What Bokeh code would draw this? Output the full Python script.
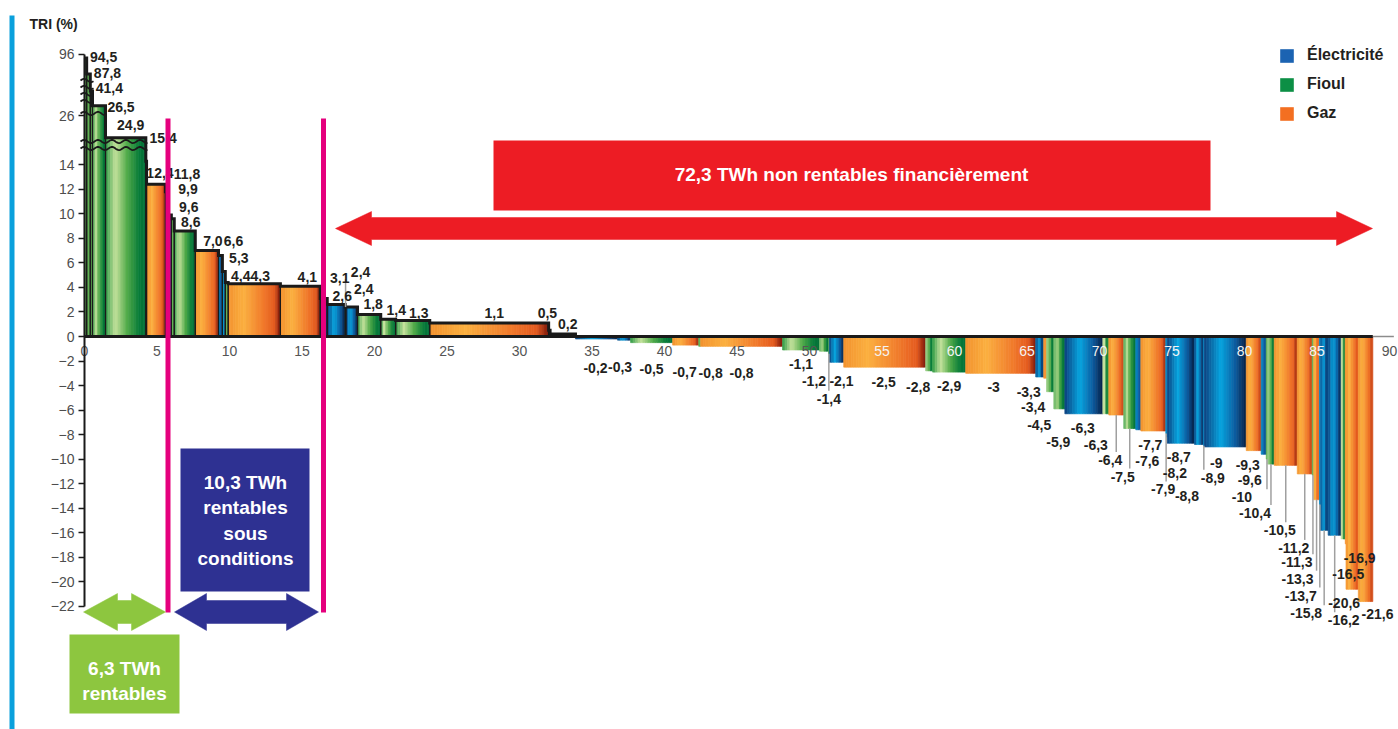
import numpy as np
from bokeh.plotting import figure
from bokeh.models import (ColumnDataSource, LinearAxis, FixedTicker, Legend,
                          LegendItem, Range1d)
from bokeh.core.properties import value
from bokeh.embed import file_html
from bokeh.resources import INLINE

# ----------------------------------------------------------------- data
TRI_LABELS = ["94,5", "87,8", "41,4", "26,5", "24,9", "15,4", "12,4", "11,8", "9,9", "9,6",
              "8,6", "7,0", "6,6", "5,3", "4,4", "4,3", "4,1", "3,1", "2,6", "2,4", "2,4",
              "1,8", "1,4", "1,3", "1,1", "0,5", "0,2",
              "-0,2", "-0,3", "-0,5", "-0,7", "-0,8", "-0,8", "-1,1", "-1,2", "-1,4", "-2,1",
              "-2,5", "-2,8", "-2,9", "-3", "-3,3", "-3,4", "-4,5", "-5,9", "-6,3", "-6,3",
              "-6,4", "-7,5", "-7,6", "-7,7", "-7,9", "-8,2", "-8,7", "-8,8", "-8,9", "-9",
              "-9,3", "-9,6", "-10", "-10,4", "-10,5", "-11,2", "-11,3", "-13,3", "-13,7",
              "-15,8", "-16,2", "-16,5", "-16,9", "-20,6", "-21,6"]
TRI_VALUES = [float(s.replace(",", ".")) for s in TRI_LABELS]
ENERGY_TWH = [0.15, 0.25, 0.15, 0.9, 2.78, 0.05, 1.3, 0.08, 0.33, 0.2, 1.45, 1.6,
              0.27, 0.2, 0.2, 3.6, 2.75, 0.48, 1.24, 0.05, 0.8, 1.6, 1.03, 2.35, 8.2, 0.1, 1.75,
              2.9, 0.9, 2.9, 1.8, 0.13, 5.65, 2.55, 0.62, 0.05, 1.0, 5.65, 0.48,
              2.28, 4.83, 0.55, 0.2, 0.5, 0.76, 2.62, 0.41, 1.03, 0.83, 0.35, 1.72,
              0.05, 0.05, 1.88, 0.62, 0.05, 2.9, 1.03, 0.35, 0.1, 0.45, 1.59,
              1.03, 0.1, 0.4, 0.05, 0.55, 0.9, 0.28, 0.05, 0.85, 1.0]
ENERGY_TYPE = ("F F F F F F G E E F F G E E F G G E E E E F F F G F E "
               "E E F G F G F F F E G F F G E G F F E F G F E G E E E E E E "
               "G E F F G G F G E E E F G G G").split()
LEGEND_NAMES = {"E": "Électricité", "F": "Fioul", "G": "Gaz"}
Y_TICKS = [-22, -20, -18, -16, -14, -12, -10, -8, -6, -4, -2, 0, 2, 4, 6, 8, 10, 12, 14, 26, 96]
X_TICKS = list(range(0, 95, 5))
TITLE_Y = "TRI (%)"
BANNER_RED = "72,3 TWh non rentables financièrement"
BANNER_BLUE = ["10,3 TWh", "rentables", "sous", "conditions"]
BANNER_GREEN = ["6,3 TWh", "rentables"]

# broken value axis: values above 14 are compressed
BREAK_VALUES = [14, 24.9, 26, 26.5, 41.4, 87.8, 96]
BREAK_DISPLAY = [14, 16.2, 18, 18.8, 20.0, 21.4, 23]

# ----------------------------------------------------------------- layout / style
W, H = 1398, 729
PXX, PXY = 14.5, 12.27          # pixels per TWh, pixels per display unit
X0_PAGE, Y0_PAGE = 84, 336       # page position of the origin
x_start = -X0_PAGE / PXX
x_end = x_start + W / PXX
y_end = Y0_PAGE / PXY
y_start = y_end - H / PXY


def X(px):
    return (px - X0_PAGE) / PXX


def Y(py):
    return (Y0_PAGE - py) / PXY


def disp(v):
    return float(v) if v <= 14 else float(np.interp(v, BREAK_VALUES, BREAK_DISPLAY))


# label offsets (px) relative to (bar centre, bar end)
LABEL_OFFSETS = [(18, -1), (19, -1), (18, -3), (22, 1), (5, -13), (17, -23), (4, -11),
                 (21, -18), (19, -26), (16, -12), (6, -9), (6, -10), (13, -15), (15, -13),
                 (14, -7), (6, -8), (7, -9), (16, -20), (6, -9), (15, -35), (12, -18),
                 (4, -10), (8, -9), (6, -8), (5, -10), (-2, -17), (5, -10),
                 (-1, 29), (-4, 27), (0, 26), (-1, 27), (11, 27), (0, 27), (0, 14),
                 (-10, 30), (0, 45), (5, 19), (-1, 15), (-11, 16), (0, 14), (-7, 14),
                 (-11, 15), (-12, 29), (-11, 33), (-1, 33), (-1, 14), (-10, 31), (-6, 45),
                 (-7, 48), (9, 31), (-3, 14), (-3, 56), (8, 36), (-2, 14), (-12, 52),
                 (9, 32), (-9, 16), (-6, 14), (-14, 26), (-25, 38), (-16, 49), (-6, 65),
                 (-11, 74), (-16, 87), (-19, 79), (-19, 91), (-18, 83), (9, 85), (5, 35),
                 (14, 14), (-8, 14), (12, 12)]
LEADER_IDX = [19, 35, 47, 48, 51, 55, 59, 60, 61, 62, 63, 64, 65, 66, 67]

GRADIENTS = {
    "F": [(0, "#2e9a45"), (0.25, "#c5e29c"), (0.55, "#4ea947"), (0.85, "#067a39"), (1, "#05703a")],
    "G": [(0, "#f3922f"), (0.3, "#fbb040"), (0.7, "#f0772a"), (0.9, "#e45a1f"), (1, "#7a1508")],
    "E": [(0, "#0e3f7e"), (0.4, "#06a6e0"), (0.75, "#0c5a9e"), (1, "#061f45")],
}
LEGEND_COLORS = {"E": "#1b63b2", "F": "#0c8f45", "G": "#f36f21"}
FONT = "Liberation Sans"
TXT = "#231f20"


def hex2rgb(h):
    h = h.lstrip("#")
    return np.array([int(h[i:i + 2], 16) for i in (0, 2, 4)], dtype=float)


def grad(stops, t):
    for (t0, c0), (t1, c1) in zip(stops[:-1], stops[1:]):
        if t0 <= t <= t1:
            f = (t - t0) / (t1 - t0)
            c = hex2rgb(c0) * (1 - f) + hex2rgb(c1) * f
            return "#%02x%02x%02x" % tuple(int(round(x)) for x in c)
    return stops[-1][1]


# ----------------------------------------------------------------- geometry from data
vals = np.array(TRI_VALUES, dtype=float)
widths = np.array(ENERGY_TWH, dtype=float)
right = np.cumsum(widths)
left = right - widths
centre = (left + right) / 2
end_d = np.array([disp(v) if v > 0 else v for v in vals])
total = right[-1]

p = figure(width=W, height=H, x_range=Range1d(x_start, x_end), y_range=Range1d(y_start, y_end),
           toolbar_location=None, output_backend="svg", min_border=0,
           x_axis_location=None, y_axis_location=None, outline_line_color=None)
p.xgrid.visible = False
p.ygrid.visible = False
p.background_fill_color = "white"

# gradient-filled bars made of thin strips
sl, sr, st, sb, sc = [], [], [], [], []
for v, l, w, t, e in zip(vals, left, widths, ENERGY_TYPE, end_d):
    n = max(1, int(round(w * PXX / 2.5)))
    top, bot = (e, 0.0) if v > 0 else (0.0, v)
    for k in range(n):
        sl.append(l + w * k / n)
        sr.append(l + w * (k + 1) / n)
        st.append(top)
        sb.append(bot)
        sc.append(grad(GRADIENTS[t], (k + 0.5) / n))
p.quad(left="l", right="r", top="t", bottom="b", fill_color="c", line_color="c", line_width=0.7,
       source=ColumnDataSource(dict(l=sl, r=sr, t=st, b=sb, c=sc)))

pos = vals > 0
p.quad(left=left[pos], right=right[pos], top=end_d[pos], bottom=0,
       fill_color=None, line_color="#1a1a1a", line_width=1.2)

# top step outline of profitable measures
step_x, step_y = [], []
for l, r, e in zip(left[pos], right[pos], end_d[pos]):
    step_x += [l, r]
    step_y += [e, e]
step_x.append(right[pos][-1])
step_y.append(0)
p.line(step_x, step_y, line_color="#1a1a1a", line_width=3, line_join="miter")


# axis-break squiggles
def wave(x0, x1, yd):
    xs = np.linspace(x0, x1, 60)
    ys = yd + 0.13 * np.sin((xs - x0) / (x1 - x0) * 2 * np.pi * (x1 - x0) * PXX / 14)
    return list(xs), list(ys)


wx, wy = [], []
for (xa, xb, yd) in [(X(80), X(147), Y(141)), (X(80), X(147), Y(148)),
                     (X(80), X(106), Y(113)), (X(80), X(93), Y(80)), (X(80), X(93), Y(87)),
                     (X(80), X(93), Y(94)), (X(80), X(93), Y(101))]:
    a, b = wave(xa, xb, yd)
    wx.append(a)
    wy.append(b)
p.multi_line(wx, wy, line_color="#1a1a1a", line_width=1.8)

# zero line
p.line([0, total], [0, 0], line_color="#1a1a1a", line_width=3)
p.line([total, 90.3], [0, 0], line_color="#8c8c8c", line_width=1.5)

# leader lines and value labels
dx = np.array([o[0] for o in LABEL_OFFSETS], dtype=float)
dy = np.array([o[1] for o in LABEL_OFFSETS], dtype=float)
lx0, ly0, ly1 = [], [], []
for i in LEADER_IDX:
    lx0.append(centre[i])
    ly0.append(end_d[i])
    if vals[i] > 0:
        ly1.append(end_d[i] - (dy[i] + 7) / PXY)
    else:
        ly1.append(end_d[i] - (dy[i] - 8) / PXY)
p.segment(x0=lx0, y0=ly0, x1=lx0, y1=ly1, line_color="#a0a0a0", line_width=1.5)

p.text(x=centre, y=end_d, text=TRI_LABELS, x_offset=dx, y_offset=dy,
       text_font=value(FONT), text_font_style="bold", text_font_size="14px",
       text_color=TXT, text_align="center", text_baseline="middle")

# segment boundaries (magenta)
for xb in (X(167.5), X(323)):
    p.segment(x0=xb, y0=Y(118), x1=xb, y1=Y(612), line_color="#e5007d", line_width=5)


def double_arrow(x0, x1, yc, head_px, head_half_px, shaft_half_px, color):
    hl = head_px / PXX
    hh = head_half_px / PXY
    sh = shaft_half_px / PXY
    xs = [x0, x0 + hl, x0 + hl, x1 - hl, x1 - hl, x1, x1 - hl, x1 - hl, x0 + hl, x0 + hl]
    ys = [yc, yc + hh, yc + sh, yc + sh, yc + hh, yc, yc - hh, yc - sh, yc - sh, yc - hh]
    p.patch(xs, ys, fill_color=color, line_color=color, line_width=0.5)


# red: non profitable
p.quad(left=X(493), right=X(1210), top=Y(140), bottom=Y(210), fill_color="#ed1c24", line_color=None)
p.text(x=[X(851)], y=[Y(174)], text=[BANNER_RED], text_font=value(FONT), text_font_style="bold",
       text_font_size="19px", text_color="white", text_align="center", text_baseline="middle")
double_arrow(X(335), X(1372), Y(228), 36, 17, 11, "#ed1c24")

# navy: profitable under conditions
p.quad(left=X(180), right=X(309), top=Y(448), bottom=Y(591), fill_color="#2e3192", line_color=None)
p.text(x=[X(245)] * 4, y=[Y(482), Y(507), Y(533), Y(558)], text=BANNER_BLUE,
       text_font=value(FONT), text_font_style="bold", text_font_size="19px",
       text_color="white", text_align="center", text_baseline="middle")
double_arrow(X(174), X(318), Y(611.5), 32, 18.5, 11.5, "#2e3192")

# green: profitable
p.quad(left=X(69), right=X(179), top=Y(634), bottom=Y(713), fill_color="#8dc63f", line_color=None)
p.text(x=[X(124)] * 2, y=[Y(668), Y(693)], text=BANNER_GREEN,
       text_font=value(FONT), text_font_style="bold", text_font_size="19px",
       text_color="white", text_align="center", text_baseline="middle")
double_arrow(X(83), X(165), Y(611.5), 34, 18.5, 11.5, "#8dc63f")

# left cyan rule and axis title
p.quad(left=X(9), right=X(14), top=Y(15), bottom=y_start, fill_color="#0aa0dc", line_color=None)
p.text(x=[X(29)], y=[Y(23)], text=[TITLE_Y], text_font=value(FONT), text_font_style="bold",
       text_font_size="14px", text_color=TXT, text_align="left", text_baseline="middle")

# ----------------------------------------------------------------- axes
y_tick_pos = [disp(t) for t in Y_TICKS]
yaxis = LinearAxis(fixed_location=0, ticker=FixedTicker(ticks=y_tick_pos),
                   bounds=(min(y_tick_pos), max(y_tick_pos)))
yaxis.major_label_overrides = {int(round(disp(t))): str(t) for t in Y_TICKS if t > 14}
yaxis.axis_line_color = "#1a1a1a"
yaxis.axis_line_width = 2
yaxis.major_tick_in = 0
yaxis.major_tick_out = 6
yaxis.major_tick_line_color = "#1a1a1a"
yaxis.major_tick_line_width = 1.5
yaxis.minor_tick_line_color = None
yaxis.major_label_standoff = 4
yaxis.major_label_text_font = FONT
yaxis.major_label_text_font_size = "14px"
yaxis.major_label_text_color = "#4d4d4d"
p.add_layout(yaxis, "left")


def bar_at(x):
    idx = np.where((left <= x) & (right > x))[0]
    return vals[idx[0]] if len(idx) else 0.0


white_ticks = [t for t in X_TICKS if bar_at(t) <= -1.7]
grey_ticks = [t for t in X_TICKS if t not in white_ticks]
for ticks, col in ((grey_ticks, "#555555"), (white_ticks, "#f4f4f4")):
    ax = LinearAxis(fixed_location=0, ticker=FixedTicker(ticks=ticks))
    ax.axis_line_color = None
    ax.major_tick_line_color = None
    ax.minor_tick_line_color = None
    ax.major_label_standoff = 3
    ax.major_label_text_font = FONT
    ax.major_label_text_font_size = "14px"
    ax.major_label_text_color = col
    p.add_layout(ax, "below")

# ----------------------------------------------------------------- legend
items = []
for k in ("E", "F", "G"):
    r = p.quad(left=[0], right=[0], top=[0], bottom=[0], fill_color=LEGEND_COLORS[k],
               line_color=None)
    items.append(LegendItem(label=LEGEND_NAMES[k], renderers=[r]))
legend = Legend(items=items, location=(1278, H - 123), glyph_width=17, glyph_height=17,
                label_height=20, spacing=9, padding=0, margin=0, label_standoff=12,
                border_line_color=None, background_fill_alpha=0,
                label_text_font=FONT, label_text_font_style="bold",
                label_text_font_size="16px", label_text_color=TXT)
p.add_layout(legend, "center")

open("out.html", "w").write(file_html(p, INLINE))
